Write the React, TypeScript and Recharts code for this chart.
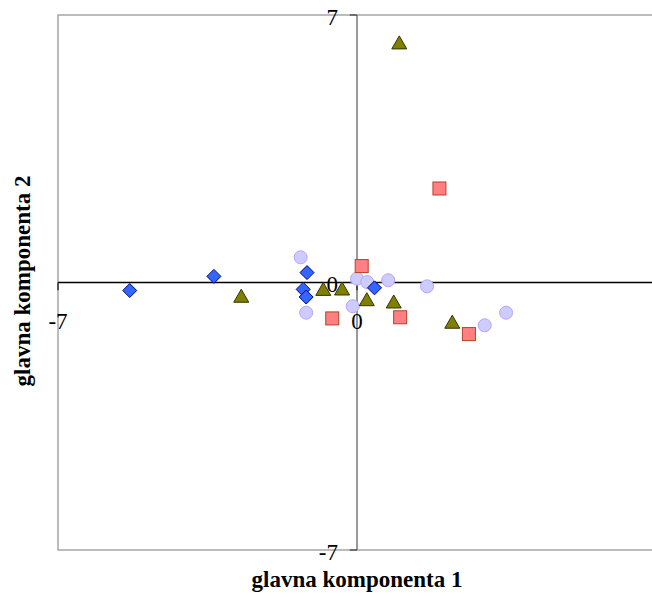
import { ScatterChart, Scatter, XAxis, YAxis, ReferenceLine, ReferenceArea, ReferenceDot } from "recharts";

// group 1 - blue diamonds
const diamondX = [-5.32, -3.35, -1.17, -1.26, -1.19, 0.41];
const diamondY = [-0.21, 0.16, 0.26, -0.18, -0.38, -0.14];
// group 2 - red squares
const squareX = [0.11, -0.58, 1.01, 2.62, 1.93];
const squareY = [0.43, -0.94, -0.91, -1.35, 2.46];
// group 3 - olive triangles
const triangleX = [0.99, -2.71, -0.79, -0.35, 0.23, 0.86, 2.23];
const triangleY = [6.27, -0.36, -0.18, -0.17, -0.45, -0.51, -1.04];
// group 4 - lavender circles
const circleX = [-1.32, -1.19, 0.0, 0.24, -0.1, 0.73, 1.64, 2.99, 3.49];
const circleY = [0.66, -0.79, 0.1, 0.01, -0.62, 0.06, -0.1, -1.12, -0.79];

const xTicks = [-7, 0, 7];
const xTickLabels = [-7, 0]; // the 7 label falls outside the visible area
const yTicks = [-7, 0, 7];

const FONT = '"Liberation Serif", "Times New Roman", serif';

const toPoints = (xs: number[], ys: number[]) => xs.map((x, i) => ({ x, y: ys[i] }));

const Diamond = ({ cx, cy }: any) => (
  <path d={`M${cx},${cy - 7}L${cx + 7},${cy}L${cx},${cy + 7}L${cx - 7},${cy}Z`} fill="#3366FF" stroke="#000080" strokeWidth={1} />
);
const Square = ({ cx, cy }: any) => (
  <rect x={cx - 6.5} y={cy - 6.5} width={13} height={13} fill="#FF8080" stroke="#B8402A" strokeWidth={1} />
);
const Triangle = ({ cx, cy }: any) => (
  <path d={`M${cx},${cy - 7}L${cx + 7.5},${cy + 6}L${cx - 7.5},${cy + 6}Z`} fill="#808000" stroke="#333300" strokeWidth={1} />
);
const Circle = ({ cx, cy }: any) => (
  <circle cx={cx} cy={cy} r={6.5} fill="#CCCCFF" stroke="#B8A4FF" strokeWidth={1} />
);

export default function App() {
  return (
    <div style={{ position: "absolute", left: 0, top: 0, width: 652, height: 597, overflow: "hidden", background: "#fff", fontFamily: FONT }}>
      <ScatterChart width={666} height={597} margin={{ top: 15, right: 10, bottom: 47, left: 58 }}>
        <XAxis type="number" dataKey="x" domain={[-7, 7]} hide />
        <YAxis type="number" dataKey="y" domain={[-7, 7]} hide />
        <ReferenceArea x1={-7} x2={7} y1={-7} y2={7} fill="#fff" fillOpacity={1} stroke="#a6a6a6" strokeWidth={1.5} />
        <ReferenceLine y={0} stroke="#000" strokeWidth={1.5} />
        <ReferenceLine x={0} stroke="#777" strokeWidth={1.5} />
        {xTicks.map((t) => (
          <ReferenceLine key={`xt${t}`} segment={[{ x: t, y: 0 }, { x: t, y: -0.2 }]} stroke="#333" strokeWidth={1.5} />
        ))}
        {yTicks.map((t) => (
          <ReferenceLine key={`yt${t}`} segment={[{ x: -0.17, y: t }, { x: 0, y: t }]} stroke="#555" strokeWidth={1.5} />
        ))}
        <Scatter data={toPoints(circleX, circleY)} shape={Circle} isAnimationActive={false} />
        <Scatter data={toPoints(diamondX, diamondY)} shape={Diamond} isAnimationActive={false} />
        <Scatter data={toPoints(squareX, squareY)} shape={Square} isAnimationActive={false} />
        <Scatter data={toPoints(triangleX, triangleY)} shape={Triangle} isAnimationActive={false} />
        {xTickLabels.map((t) => (
          <ReferenceDot
            key={`xl${t}`}
            x={t}
            y={0}
            r={0}
            shape={(p: any) => (
              <text x={p.cx} y={p.cy + 39} textAnchor="middle" dominantBaseline="central" fontFamily={FONT} fontSize={23} fill="#000">
                {t}
              </text>
            )}
          />
        ))}
        {yTicks.map((t) => (
          <ReferenceDot
            key={`yl${t}`}
            x={0}
            y={t}
            r={0}
            shape={(p: any) => (
              <text x={p.cx - 19} y={p.cy + 2} textAnchor="end" dominantBaseline="central" fontFamily={FONT} fontSize={23} fill="#000">
                {t}
              </text>
            )}
          />
        ))}
      </ScatterChart>
      <div style={{ position: "absolute", left: 157, width: 400, top: 568, textAlign: "center", fontWeight: "bold", fontSize: 23, lineHeight: "24px" }}>
        glavna komponenta 1
      </div>
      <div
        style={{
          position: "absolute",
          left: 23,
          top: 281,
          transform: "translate(-50%, -50%) rotate(-90deg)",
          whiteSpace: "nowrap",
          fontWeight: "bold",
          fontSize: 23,
          lineHeight: "24px",
        }}
      >
        glavna komponenta 2
      </div>
    </div>
  );
}
